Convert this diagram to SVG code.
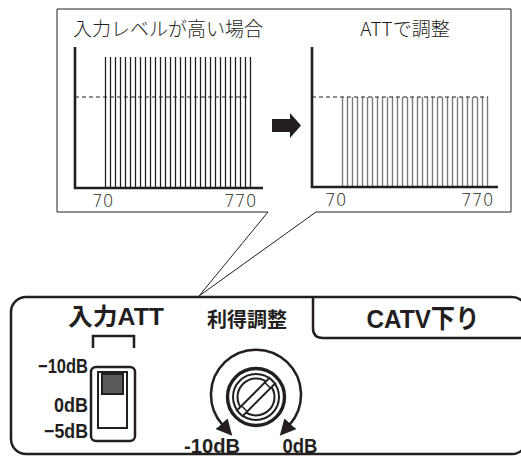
<svg xmlns="http://www.w3.org/2000/svg" width="521" height="456" viewBox="0 0 521 456">
<defs>
<style>
.jp{font-family:"Noto Sans CJK JP","Noto Sans",sans-serif;font-weight:300;fill:#231f20}
.num{font-family:"DejaVu Sans","Noto Sans",sans-serif;font-weight:200;font-size:17px;fill:#231f20}
.bold{font-family:"Liberation Sans","Noto Sans CJK JP",sans-serif;font-weight:bold;fill:#231f20}
.axis{stroke:#231f20;stroke-width:2.6;fill:none}
.dash{stroke:#231f20;stroke-width:1.2;stroke-dasharray:4 3;fill:none}
.barA{stroke:#231f20;stroke-width:1.3}
.barB{stroke:#7a7a7a;stroke-width:1.4}
.thin{stroke:#231f20;stroke-width:1;fill:none}
.line{stroke:#231f20;stroke-width:2.5;fill:none}
</style>
<pattern id="barsA" x="104" y="0" width="5" height="456" patternUnits="userSpaceOnUse">
<line x1="1.5" y1="0" x2="1.5" y2="456" class="barA"/>
</pattern>
<pattern id="barsB" x="341" y="0" width="5" height="456" patternUnits="userSpaceOnUse">
<line x1="1.5" y1="0" x2="1.5" y2="456" class="barB"/>
</pattern>
<marker id="ah" viewBox="0 0 16 16" refX="1" refY="8" markerWidth="16" markerHeight="16" markerUnits="userSpaceOnUse" orient="auto-start-reverse">
<path d="M0,0 L16,8 L0,16 Z" fill="#231f20"/>
</marker>
</defs>

<g id="callout">
<path class="thin" d="M268,212 H57 V9 H511 V212 H316"/>
</g>

<g id="graph-left">
<text class="jp" x="73" y="36" font-size="19" textLength="190" lengthAdjust="spacingAndGlyphs">入力レベルが高い場合</text>
<rect x="104" y="57" width="148" height="131" fill="url(#barsA)"/>
<line class="dash" x1="75" y1="97" x2="251" y2="97"/>
<path class="axis" d="M75,47 V188 H263"/>
<text class="num" x="92" y="207">70</text>
<text class="num" x="224" y="207">770</text>
</g>

<g id="arrow">
<path d="M272,119 H290 V113 L301,125.5 L290,138 V132 H272 Z" fill="#231f20"/>
</g>

<g id="graph-right">
<text class="jp" x="405" y="36" font-size="19" text-anchor="middle">ATTで調整</text>
<rect x="341" y="97" width="148" height="90" fill="url(#barsB)"/>
<line class="dash" x1="312" y1="97" x2="488" y2="97"/>
<path class="axis" d="M312,47 V187 H498"/>
<text class="num" x="325" y="206">70</text>
<text class="num" x="461" y="206">770</text>
</g>

<g id="connectors">
<path class="thin" d="M268,212 L199,296 L316,212"/>
</g>

<g id="panel">
<rect class="line" x="11" y="297" width="516" height="157" rx="15"/>
</g>

<g id="catv-tab">
<path class="line" d="M313,297 V328 Q313,338 323,338 H523"/>
<text class="bold" x="423" y="328" font-size="26" text-anchor="middle" textLength="113" lengthAdjust="spacingAndGlyphs">CATV下り</text>
</g>

<g id="att-switch">
<text class="bold" x="116" y="325" font-size="24" text-anchor="middle" textLength="96" lengthAdjust="spacingAndGlyphs">入力ATT</text>
<path class="line" d="M93,348 V336 H134 V348" stroke-width="2"/>
<rect class="line" x="91" y="367" width="44" height="74" rx="5" stroke-width="2.5"/>
<rect x="98" y="372" width="29" height="56" fill="#fff" stroke="#231f20" stroke-width="2"/>
<rect x="102" y="374" width="21" height="20" fill="#58595b" stroke="#231f20" stroke-width="2"/>
<text class="bold" x="88" y="373" font-size="21" text-anchor="end" textLength="50" lengthAdjust="spacingAndGlyphs">−10dB</text>
<text class="bold" x="88" y="412" font-size="21" text-anchor="end" textLength="34" lengthAdjust="spacingAndGlyphs">0dB</text>
<text class="bold" x="88" y="438" font-size="21" text-anchor="end" textLength="44" lengthAdjust="spacingAndGlyphs">−5dB</text>
</g>

<g id="gain-knob">
<text class="bold" x="247" y="327" font-size="20" text-anchor="middle" textLength="80" lengthAdjust="spacingAndGlyphs">利得調整</text>
<path class="line" stroke-width="2.8" d="M222.3,424.5 A45,45 0 1 1 289.7,424.5" marker-start="url(#ah)" marker-end="url(#ah)"/>
<circle cx="256" cy="397" r="28.5" fill="#fff" stroke="#231f20" stroke-width="3.4"/>
<circle cx="256" cy="397" r="23" fill="none" stroke="#231f20" stroke-width="2"/>
<circle cx="256" cy="397" r="18.5" fill="none" stroke="#231f20" stroke-width="2"/>
<g transform="rotate(-45 256 397)">
<rect x="233" y="393" width="46" height="8" fill="#fff" stroke="#231f20" stroke-width="2"/>
<line x1="239.5" y1="393" x2="239.5" y2="401" stroke="#231f20" stroke-width="1.5"/>
<line x1="272.5" y1="393" x2="272.5" y2="401" stroke="#231f20" stroke-width="1.5"/>
</g>
<text class="bold" x="212" y="453" font-size="20" text-anchor="middle" textLength="56" lengthAdjust="spacingAndGlyphs">-10dB</text>
<text class="bold" x="300" y="453" font-size="20" text-anchor="middle" textLength="35" lengthAdjust="spacingAndGlyphs">0dB</text>
</g>
</svg>
